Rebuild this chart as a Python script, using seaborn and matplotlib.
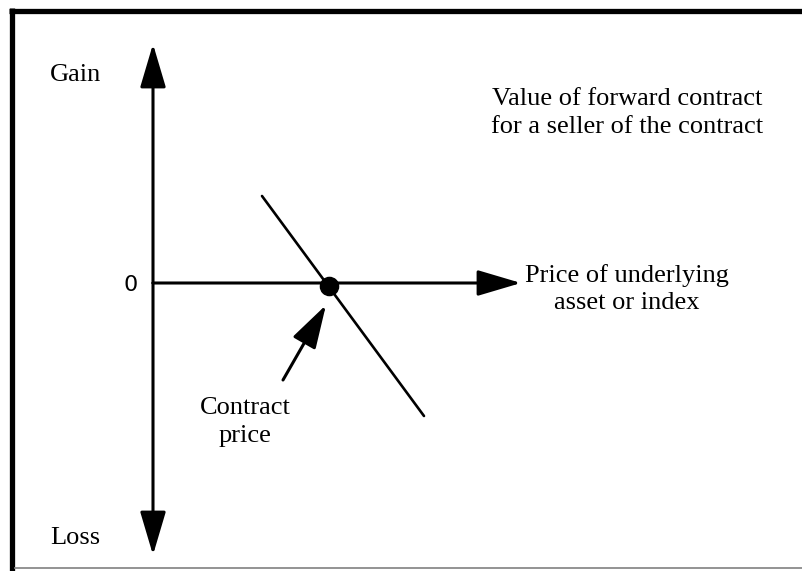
import matplotlib
matplotlib.use("Agg")
import matplotlib.pyplot as plt
import seaborn as sns
import pandas as pd
from matplotlib.lines import Line2D

sns.set_theme(style="white")
plt.rcParams["font.family"] = ["Liberation Serif", "DejaVu Serif"]
plt.rcParams["text.color"] = "black"

# payoff of the seller of a forward contract (diagram units, origin at axes cross)
price = [109, 271]
value = [87, -133]
contract_price = 176
contract_value = 0

# axis extents
price_axis_end = 368
gain_end = 239
loss_end = -272

df = pd.DataFrame({"price": price, "value": value})

fig = plt.figure(figsize=(8.02, 5.71), dpi=100)
ax = fig.add_axes([0, 0, 1, 1])
ax.set_xlim(-153, 649)
ax.set_ylim(-288, 283)
ax.axis("off")

head = "-|>,head_length=27,head_width=8"
arrow_kw = dict(arrowstyle=head, color="black", lw=2.2, shrinkA=0, shrinkB=0,
                mutation_scale=1)

# vertical axis (gain / loss)
ax.annotate("", xy=(0, gain_end), xytext=(0, 0), arrowprops=arrow_kw)
ax.annotate("", xy=(0, loss_end), xytext=(0, 0), arrowprops=arrow_kw)
# horizontal axis (price)
ax.annotate("", xy=(price_axis_end, 0), xytext=(0, 0), arrowprops=arrow_kw)

# payoff line
sns.lineplot(data=df, x="price", y="value", color="black", lw=1.9, ax=ax)
sns.scatterplot(x=[contract_price], y=[contract_value - 3], s=170, color="black",
                edgecolor="black", zorder=5, ax=ax)

# contract price pointer
ax.annotate("", xy=(contract_price - 3, -22), xytext=(contract_price - 46, -97),
            arrowprops=arrow_kw)

fs = 19
ls = 1.35
ax.text(-103, 208, "Gain", fontsize=fs, ha="left", va="center")
ax.text(-103, -255, "Loss", fontsize=fs, ha="left", va="center")
ax.text(-22, -2, "0", fontsize=16, ha="center", va="center",
        family=["DejaVu Sans"])
ax.text(474, 170, "Value of forward contract\nfor a seller of the contract",
        fontsize=fs, ha="center", va="center", linespacing=ls)
ax.text(474, -6, "Price of underlying\nasset or index",
        fontsize=fs, ha="center", va="center", linespacing=ls)
ax.text(92, -139, "Contract\nprice", fontsize=fs, ha="center", va="center",
        linespacing=ls)

# frame
fig.add_artist(Line2D([11.5 / 802, 11.5 / 802], [0, 1 - 8 / 571], color="black",
                      lw=3.8, solid_capstyle="butt", transform=fig.transFigure))
fig.add_artist(Line2D([9 / 802, 1], [1 - 10.5 / 571, 1 - 10.5 / 571], color="black",
                      lw=3.8, solid_capstyle="butt", transform=fig.transFigure))
fig.add_artist(Line2D([14 / 802, 1], [3 / 571, 3 / 571], color="#808080",
                      lw=1.2, solid_capstyle="butt", transform=fig.transFigure))

plt.savefig("out.png", dpi=100)
